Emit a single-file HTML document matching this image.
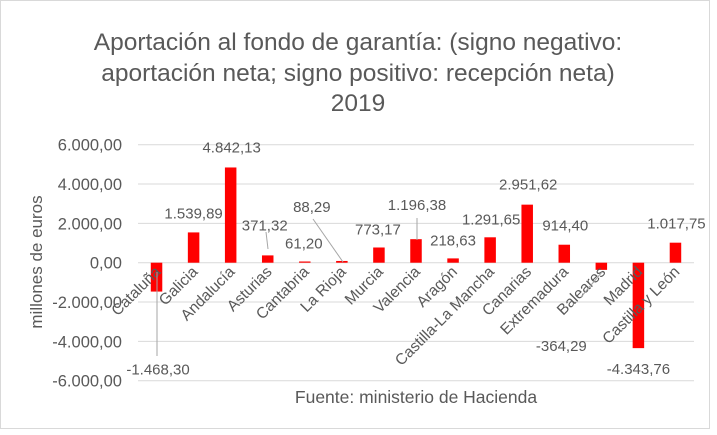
<!DOCTYPE html>
<html><head><meta charset="utf-8"><style>
html,body{margin:0;padding:0;background:#fff;}
svg{display:block;font-family:"Liberation Sans",sans-serif;}
</style></head><body>
<svg id="chart" width="717" height="435" viewBox="0 0 717 435">
<rect x="0.5" y="0.5" width="709" height="428" fill="#fff" stroke="#d9d9d9"/>
<g fill="#595959" font-size="24.5" text-anchor="middle">
<text x="358" y="50">Aportación al fondo de garantía: (signo negativo:</text>
<text x="358" y="81">aportación neta; signo positivo: recepción neta)</text>
<text x="358" y="111">2019</text>
</g>
<text transform="translate(42,262) rotate(-90)" text-anchor="middle" fill="#595959" font-size="17">millones de euros</text>
<text x="416" y="403" text-anchor="middle" fill="#595959" font-size="17.5">Fuente: ministerio de Hacienda</text>
<g id="grid"></g><g id="bars"></g><g id="cats"></g><g id="labels"></g>
</svg>
<script>
const categories=["Cataluña","Galicia","Andalucía","Asturias","Cantabria","La Rioja","Murcia","Valencia","Aragón","Castilla-La Mancha","Canarias","Extremadura","Baleares","Madrid","Castilla y León"];
const values=[-1468.30,1539.89,4842.13,371.32,61.20,88.29,773.17,1196.38,218.63,1291.65,2951.62,914.40,-364.29,-4343.76,1017.75];
const valueLabels=["-1.468,30","1.539,89","4.842,13","371,32","61,20","88,29","773,17","1.196,38","218,63","1.291,65","2.951,62","914,40","-364,29","-4.343,76","1.017,75"];
const yTicks=[6000,4000,2000,0,-2000,-4000,-6000];
const yTickLabels=["6.000,00","4.000,00","2.000,00","0,00","-2.000,00","-4.000,00","-6.000,00"];
// label layout offsets (dx,dy from bar end) — layout, not data
const labelOffsets=[[1.5,83],[0,-14],[1,-15],[-3,-25],[-1,-13],[-30,-49],[-1,-13],[1,-29],[0,-13],[1,-13],[1,-15],[1,-14],[-40,81],[0,26],[1,-14]];
const NS="http://www.w3.org/2000/svg";
const x0=138,x1=694,yTop=144.7,yBot=380.7;
const step=(x1-x0)/categories.length;
const xc=i=>x0+step*(i+0.5);
const y=v=>yBot-(v-(-6000))/12000*(yBot-yTop);
function mk(tag,attrs,parent){const e=document.createElementNS(NS,tag);for(const k in attrs)e.setAttribute(k,attrs[k]);parent.appendChild(e);return e;}
const grid=document.getElementById('grid');
yTicks.forEach((t,i)=>{
 const l=mk('line',{x1:x0,x2:x1,y1:y(t),y2:y(t),stroke:'#d9d9d9','stroke-width':1},grid);
 
 
 const tx=mk('text',{x:122,y:y(t)+6,'text-anchor':'end',fill:'#595959','font-size':16.5},grid);
 tx.textContent=yTickLabels[i];
 
 
});
const bars=document.getElementById('bars'),labels=document.getElementById('labels'),cats=document.getElementById('cats');
const bw=11.5;
values.forEach((v,i)=>{
 const top=Math.min(y(v),y(0)),h=Math.abs(y(v)-y(0));
 const r=mk('rect',{x:xc(i)-bw/2,y:top,width:bw,height:Math.max(h,0.5),fill:'#ff0000'},bars);
 
 
 const t=mk('text',{x:xc(i)+labelOffsets[i][0],y:y(v)+labelOffsets[i][1],'text-anchor':'middle',fill:'#595959','font-size':15},labels);
 t.textContent=valueLabels[i];
 
 
 const c=mk('text',{transform:`translate(${xc(i)+5},${y(0)+10}) rotate(-45)`,'text-anchor':'end',fill:'#595959','font-size':15.5},cats);
 c.textContent=categories[i];
 
 
});
const pts=[[157,272,157,356],[268,249,266,232],[343,262,313,219],[417,240,417,218],[602,272,581,297]];
pts.forEach(p=>{
 const l=mk('line',{x1:p[0],y1:p[1],x2:p[2],y2:p[3],stroke:'#a6a6a6','stroke-width':1},labels);
 
 
});
</script>
</body></html>
